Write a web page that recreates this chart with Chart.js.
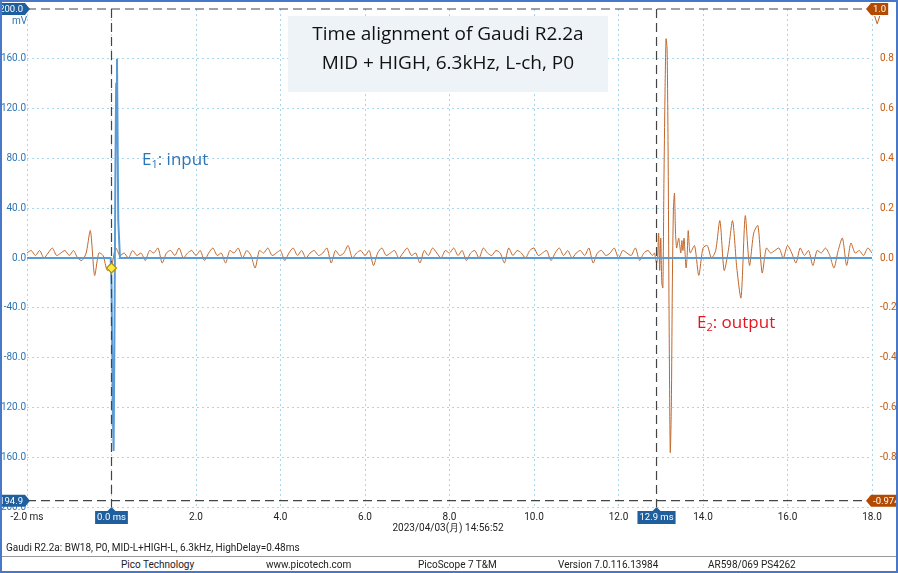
<!DOCTYPE html>
<html><head><meta charset="utf-8">
<script src="https://cdn.jsdelivr.net/npm/chart.js@4"></script>
<style>
html,body{margin:0;padding:0;background:#fff;}
#wrap{position:relative;width:894px;height:569px;border:2px solid #4a78c8;font-family:Roboto,"Liberation Sans",sans-serif;}
#c{position:absolute;left:0;top:0;}
.foot{position:absolute;font-size:10px;color:#222;}
</style></head><body>
<div id="wrap">
<canvas id="c" width="894" height="545"></canvas>
<div class="foot" style="left:4px;top:540px;">Gaudi R2.2a: BW18, P0, MID-L+HIGH-L, 6.3kHz, HighDelay=0.48ms</div>
<div style="position:absolute;left:0;top:554px;width:894px;height:1px;background:#999;"></div>
<div class="foot" style="left:119px;top:557px;">Pico Technology</div>
<div class="foot" style="left:264px;top:557px;">www.picotech.com</div>
<div class="foot" style="left:416px;top:557px;">PicoScope 7 T&amp;M</div>
<div class="foot" style="left:556px;top:557px;">Version 7.0.116.13984</div>
<div class="foot" style="left:706px;top:557px;">AR598/069 PS4262</div>
</div>
<script>
// Orange channel (V), segment A: -2.0 .. 12.8 step 0.1
const orangeA = [
0.02,0.03,0.01,0.03,0.00,0.02,0.04,0.01,0.02,0.03,
0.01,0.03,0.00,-0.01,0.02,0.11,-0.07,0.02,0.01,-0.05,
-0.03,0.04,0.01,0.02,0.00,0.03,0.01,0.02,-0.01,0.03,
0.02,0.04,-0.02,0.02,0.03,0.01,0.04,0.00,0.02,0.03,
0.01,0.03,-0.01,0.02,0.04,0.01,0.02,-0.02,0.03,0.02,
0.04,0.00,0.03,0.01,-0.04,0.03,0.02,0.04,0.01,0.02,
0.03,-0.01,0.02,0.04,0.01,0.03,0.00,0.02,0.03,0.01,
0.02,0.04,-0.02,0.03,0.01,0.02,0.05,0.00,0.02,0.03,
0.01,0.03,-0.03,0.02,0.04,0.01,0.02,0.03,0.00,0.02,
0.04,0.01,0.02,-0.02,0.03,0.01,0.04,0.02,0.00,0.03,
0.02,0.04,0.01,0.03,-0.01,0.02,0.03,0.00,0.04,0.02,
0.01,0.03,0.02,-0.02,0.04,0.01,0.03,0.02,0.00,0.03,
0.04,0.01,0.02,0.03,-0.01,0.02,0.04,0.01,0.03,0.00,
0.02,0.03,0.01,0.04,-0.02,0.02,0.03,0.01,0.02,0.04,
0.00,0.03,0.02,0.01,0.04,-0.01,0.02,0.03,0.01];
// segment B: 12.85 .. 13.7 step 0.025
const orangeB = [0.02,0.0,-0.02,0.0,0.1,-0.05,0.08,-0.1,-0.12,0.3,0.65,0.88,0.84,0.4,-0.3,-0.78,-0.6,-0.1,0.2,0.26,0.1,0.04,0.06,0.08,0.05,0.02,0.07,0.03,0.08,0.02,-0.04,0.01,0.11,0.05,0.02];
// segment C: 13.8 .. 18.0 step 0.1
const orangeC = [0.05,-0.07,0.04,0.05,0.0,0.03,0.15,-0.05,0.03,0.15,-0.04,-0.16,0.17,-0.03,0.10,0.13,-0.06,0.04,0.02,0.03,
0.04,0.00,0.05,0.02,-0.02,0.04,0.01,0.03,-0.03,0.03,
0.02,0.04,0.01,-0.04,0.03,0.08,-0.03,0.06,0.02,0.03,
0.01,0.04,0.02];
// Blue channel (mV)
const blueT = [-2.0,-0.02,0.0,0.03,0.05,0.07,0.09,0.11,0.13,0.16,0.2,18.0];
const blueV = [0,0,-20,-120,-155,-60,60,140,160,30,0,0];
const xTicks = [-2,0,2,4,6,8,10,12,14,16,18];

function seg(start, step, vals){return vals.map((v,i)=>({x:+(start+i*step).toFixed(3),y:v}));}
const orange = [...seg(-2.0,0.1,orangeA),...seg(12.85,0.025,orangeB),...seg(13.8,0.1,orangeC)];
const blue = blueT.map((t,i)=>({x:t,y:blueV[i]}));

const BLUE='#2e75b6', ORANGE='#c55a11';
function tag(ctx,x,y,text,bg,pointer){
  ctx.save();ctx.font='9.5px Roboto';const w=ctx.measureText(text).width+4;
  ctx.fillStyle=bg;ctx.beginPath();
  if(pointer==='right'){ctx.moveTo(x-w-5,y-6);ctx.lineTo(x-5,y-6);ctx.lineTo(x,y);ctx.lineTo(x-5,y+6);ctx.lineTo(x-w-5,y+6);}
  else if(pointer==='left'){ctx.moveTo(x+w+5,y-6);ctx.lineTo(x+5,y-6);ctx.lineTo(x,y);ctx.lineTo(x+5,y+6);ctx.lineTo(x+w+5,y+6);}
  else {ctx.moveTo(x-w/2,y+4);ctx.lineTo(x-4,y+4);ctx.lineTo(x,y);ctx.lineTo(x+4,y+4);ctx.lineTo(x+w/2,y+4);ctx.lineTo(x+w/2,y+17);ctx.lineTo(x-w/2,y+17);}
  ctx.closePath();ctx.fill();ctx.fillStyle='#fff';ctx.textBaseline='middle';ctx.textAlign='center';
  if(pointer==='right')ctx.fillText(text,x-5-w/2,y+0.5);
  else if(pointer==='left')ctx.fillText(text,x+5+w/2,y+0.5);
  else ctx.fillText(text,x,y+11);
  ctx.restore();
}
const deco={id:'deco',
 beforeDatasetsDraw(ch){const c=ch.ctx;
  c.save();c.fillStyle='#eef3f8';c.fillRect(286,14,320,76);c.restore();},
 afterDatasetsDraw(ch){const c=ch.ctx,a=ch.chartArea,xs=ch.scales.x,yl=ch.scales.y;
  c.save();c.strokeStyle='#444';c.lineWidth=1.2;c.setLineDash([9,5]);
  const yt=yl.getPixelForValue(200),yb=yl.getPixelForValue(-194.9);
  c.beginPath();c.moveTo(a.left,yt);c.lineTo(a.right,yt);c.moveTo(a.left,yb);c.lineTo(a.right,yb);
  [0,12.9].forEach(t=>{const px=xs.getPixelForValue(t);c.moveTo(px,a.top);c.lineTo(px,a.bottom);});
  c.stroke();c.setLineDash([]);
  const dx=xs.getPixelForValue(0),dy=yl.getPixelForValue(-8);
  c.fillStyle='#ffe84a';c.strokeStyle='#b09000';c.beginPath();c.moveTo(dx,dy-5);c.lineTo(dx+5,dy);c.lineTo(dx,dy+5);c.lineTo(dx-5,dy);c.closePath();c.fill();c.stroke();
  c.fillStyle='#111';c.font='19px "Open Sans"';c.textAlign='center';c.textBaseline='middle';
  c.fillText('Time alignment of Gaudi R2.2a',446,33);c.fillText('MID + HIGH, 6.3kHz, L-ch, P0',446,62);
  c.textAlign='left';c.font='17px "Open Sans"';c.fillStyle=BLUE;
  c.fillText('E',140,158);let w=c.measureText('E').width;c.font='11px "Open Sans"';c.fillText('1',140+w,163);
  let w2=c.measureText('1').width;c.font='17px "Open Sans"';c.fillText(': input',140+w+w2,158);
  c.fillStyle='#e8141e';c.fillText('E',695,321);w=c.measureText('E').width;c.font='11px "Open Sans"';c.fillText('2',695+w,326);
  w2=c.measureText('2').width;c.font='17px "Open Sans"';c.fillText(': output',695+w+w2,321);
  c.font='10px Roboto';c.fillStyle=BLUE;c.fillText('mV',10,19);c.fillStyle=ORANGE;c.fillText('V',872,19);
  tag(c,a.left+3,yt,'200.0','#1f5f9e','right');
  tag(c,a.right-6,yt,'1.0','#b34a00','left');
  tag(c,a.left+3,yb,'-194.9','#1f5f9e','right');
  tag(c,a.right-6,yb,'-0.974','#b34a00','left');
  tag(c,xs.getPixelForValue(0),a.bottom,'0.0 ms','#1f5f9e','up');
  tag(c,xs.getPixelForValue(12.9),a.bottom,'12.9 ms','#1f5f9e','up');
  c.fillStyle='#222';c.textAlign='center';c.fillText('2023/04/03(月) 14:56:52',446,526);
  c.restore();}};
new Chart(document.getElementById('c'),{type:'scatter',
 data:{datasets:[
  {data:blue,yAxisID:'y',showLine:true,borderColor:'#5b9bd5',borderWidth:2,pointRadius:0,tension:0},
  {data:orange,yAxisID:'y2',showLine:true,borderColor:'#c0662a',borderWidth:1,pointRadius:0,tension:0.25}]},
 options:{responsive:false,animation:false,layout:{padding:{top:7,left:0,right:0,bottom:0}},
  plugins:{legend:{display:false},tooltip:{enabled:false}},
  scales:{
   x:{type:'linear',min:-2,max:18,afterBuildTicks:s=>{s.ticks=xTicks.map(v=>({value:v}));},
      afterFit:s=>{s.height=40;},
      ticks:{padding:4,font:{size:10,family:'Roboto'},color:'#222',maxRotation:0,callback:v=>v===-2?'-2.0 ms':v.toFixed(1)},
      grid:{color:'#a9d6ea',lineWidth:1,drawTicks:false},border:{display:false,dash:[2,3]}},
   y:{position:'left',min:-200,max:200,afterBuildTicks:s=>{s.ticks=[-200,-160,-120,-80,-40,0,40,80,120,160].map(v=>({value:v}));},
      afterFit:s=>{s.width=25;},
      ticks:{padding:1,font:{size:10,family:'Roboto'},color:BLUE,callback:v=>v.toFixed(1)},
      grid:{color:'#a9d6ea',drawTicks:false},border:{display:false,dash:[2,3]}},
   y2:{position:'right',min:-1,max:1,afterBuildTicks:s=>{s.ticks=[-0.8,-0.6,-0.4,-0.2,0,0.2,0.4,0.6,0.8].map(v=>({value:v}));},
      afterFit:s=>{s.width=24;},
      ticks:{padding:0,font:{size:10,family:'Roboto'},color:ORANGE,callback:v=>v.toFixed(1)},
      grid:{display:false},border:{display:false}}
  }}, plugins:[deco]});
</script></body></html>
